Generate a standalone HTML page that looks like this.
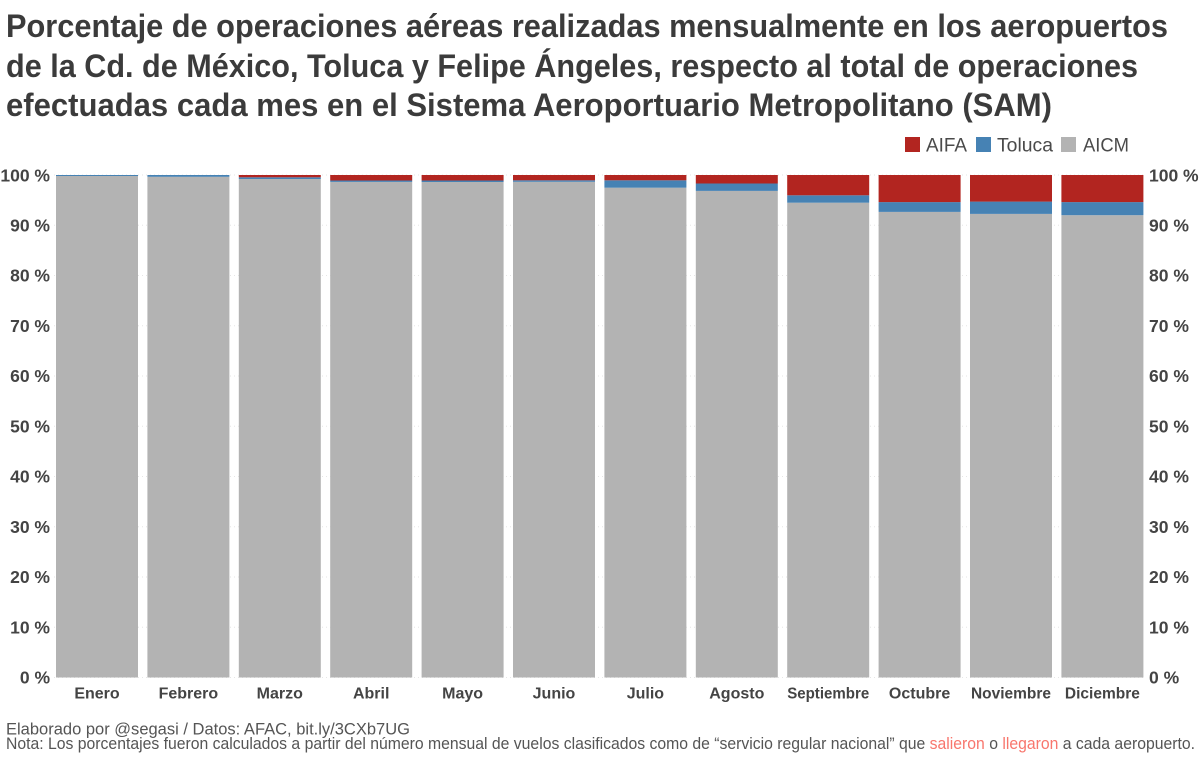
<!DOCTYPE html>
<html>
<head>
<meta charset="utf-8">
<style>
  html,body{margin:0;padding:0;background:#fff;}
  svg{display:block;}
  text{font-family:"Liberation Sans",Arial,sans-serif;}
</style>
</head>
<body>
<svg width="1200" height="758" viewBox="0 0 1200 758" xmlns="http://www.w3.org/2000/svg">
  <rect width="1200" height="758" fill="#fff"/>
  <!-- Title -->
  <g fill="#3b3b3b" font-weight="bold" font-size="32">
    <text x="6" y="37" textLength="1162" lengthAdjust="spacingAndGlyphs">Porcentaje de operaciones aéreas realizadas mensualmente en los aeropuertos</text>
    <text x="6" y="77" textLength="1132" lengthAdjust="spacingAndGlyphs">de la Cd. de México, Toluca y Felipe Ángeles, respecto al total de operaciones</text>
    <text x="6" y="116" textLength="1046" lengthAdjust="spacingAndGlyphs">efectuadas cada mes en el Sistema Aeroportuario Metropolitano (SAM)</text>
  </g>
  <!-- Legend -->
  <g font-size="19" fill="#4a4a4a">
    <rect x="905" y="137" width="15" height="15" fill="#b22520"/>
    <text x="926" y="151.5" textLength="41" lengthAdjust="spacingAndGlyphs">AIFA</text>
    <rect x="976" y="137" width="15" height="15" fill="#4682b4"/>
    <text x="997" y="151.5" textLength="56" lengthAdjust="spacingAndGlyphs">Toluca</text>
    <rect x="1061" y="137" width="15" height="15" fill="#b3b3b3"/>
    <text x="1083" y="151.5" textLength="46" lengthAdjust="spacingAndGlyphs">AICM</text>
  </g>
  <!-- Grid -->
  <g stroke="#e6e6e6" stroke-width="1" stroke-dasharray="1,3">
    <line x1="54" x2="1146" y1="175" y2="175"/>
    <line x1="54" x2="1146" y1="225.25" y2="225.25"/>
    <line x1="54" x2="1146" y1="275.5" y2="275.5"/>
    <line x1="54" x2="1146" y1="325.75" y2="325.75"/>
    <line x1="54" x2="1146" y1="376" y2="376"/>
    <line x1="54" x2="1146" y1="426.25" y2="426.25"/>
    <line x1="54" x2="1146" y1="476.5" y2="476.5"/>
    <line x1="54" x2="1146" y1="526.75" y2="526.75"/>
    <line x1="54" x2="1146" y1="577" y2="577"/>
    <line x1="54" x2="1146" y1="627.25" y2="627.25"/>
    <line x1="54" x2="1146" y1="677.5" y2="677.5"/>
  </g>
  <!-- Bars -->
  <g>
    <rect x="56" y="176" width="82" height="501.5" fill="#b3b3b3"/>
    <rect x="56" y="175" width="82" height="1" fill="#4682b4"/>
    <rect x="147.4" y="176.8" width="82" height="500.7" fill="#b3b3b3"/>
    <rect x="147.4" y="175" width="82" height="1.8" fill="#4682b4"/>
    <rect x="238.8" y="179" width="82" height="498.5" fill="#b3b3b3"/>
    <rect x="238.8" y="177.3" width="82" height="1.7" fill="#4682b4"/>
    <rect x="238.8" y="175" width="82" height="2.3" fill="#b22520"/>
    <rect x="330.2" y="181.9" width="82" height="495.6" fill="#b3b3b3"/>
    <rect x="330.2" y="180.5" width="82" height="1.4" fill="#4682b4"/>
    <rect x="330.2" y="175" width="82" height="5.5" fill="#b22520"/>
    <rect x="421.6" y="182" width="82" height="495.5" fill="#b3b3b3"/>
    <rect x="421.6" y="180.5" width="82" height="1.5" fill="#4682b4"/>
    <rect x="421.6" y="175" width="82" height="5.5" fill="#b22520"/>
    <rect x="513" y="181.8" width="82" height="495.7" fill="#b3b3b3"/>
    <rect x="513" y="180.3" width="82" height="1.5" fill="#4682b4"/>
    <rect x="513" y="175" width="82" height="5.3" fill="#b22520"/>
    <rect x="604.4" y="187.7" width="82" height="489.8" fill="#b3b3b3"/>
    <rect x="604.4" y="180.3" width="82" height="7.4" fill="#4682b4"/>
    <rect x="604.4" y="175" width="82" height="5.3" fill="#b22520"/>
    <rect x="695.8" y="190.9" width="82" height="486.6" fill="#b3b3b3"/>
    <rect x="695.8" y="183.5" width="82" height="7.4" fill="#4682b4"/>
    <rect x="695.8" y="175" width="82" height="8.5" fill="#b22520"/>
    <rect x="787.2" y="202.7" width="82" height="474.8" fill="#b3b3b3"/>
    <rect x="787.2" y="195.3" width="82" height="7.4" fill="#4682b4"/>
    <rect x="787.2" y="175" width="82" height="20.3" fill="#b22520"/>
    <rect x="878.6" y="211.9" width="82" height="465.6" fill="#b3b3b3"/>
    <rect x="878.6" y="202.1" width="82" height="9.8" fill="#4682b4"/>
    <rect x="878.6" y="175" width="82" height="27.1" fill="#b22520"/>
    <rect x="970" y="213.9" width="82" height="463.6" fill="#b3b3b3"/>
    <rect x="970" y="201.6" width="82" height="12.3" fill="#4682b4"/>
    <rect x="970" y="175" width="82" height="26.6" fill="#b22520"/>
    <rect x="1061.4" y="215.2" width="82" height="462.3" fill="#b3b3b3"/>
    <rect x="1061.4" y="202.1" width="82" height="13.1" fill="#4682b4"/>
    <rect x="1061.4" y="175" width="82" height="27.1" fill="#b22520"/>
  </g>
  <!-- Left axis labels -->
  <g font-size="17.5" font-weight="bold" fill="#444" text-anchor="end">
    <text x="50" y="181.5">100 %</text>
    <text x="50" y="231.5">90 %</text>
    <text x="50" y="281.5">80 %</text>
    <text x="50" y="332">70 %</text>
    <text x="50" y="382">60 %</text>
    <text x="50" y="432.5">50 %</text>
    <text x="50" y="482.5">40 %</text>
    <text x="50" y="533">30 %</text>
    <text x="50" y="583">20 %</text>
    <text x="50" y="633.5">10 %</text>
    <text x="50" y="683.5">0 %</text>
  </g>
  <!-- Right axis labels -->
  <g font-size="17.5" font-weight="bold" fill="#444" text-anchor="start">
    <text x="1149" y="181.5">100 %</text>
    <text x="1149" y="231.5">90 %</text>
    <text x="1149" y="281.5">80 %</text>
    <text x="1149" y="332">70 %</text>
    <text x="1149" y="382">60 %</text>
    <text x="1149" y="432.5">50 %</text>
    <text x="1149" y="482.5">40 %</text>
    <text x="1149" y="533">30 %</text>
    <text x="1149" y="583">20 %</text>
    <text x="1149" y="633.5">10 %</text>
    <text x="1149" y="683.5">0 %</text>
  </g>
  <!-- Month labels -->
  <g font-size="16" font-weight="bold" fill="#444" text-anchor="middle">
    <text x="97" y="698.5">Enero</text>
    <text x="188.4" y="698.5">Febrero</text>
    <text x="279.8" y="698.5">Marzo</text>
    <text x="371.2" y="698.5">Abril</text>
    <text x="462.6" y="698.5">Mayo</text>
    <text x="554" y="698.5">Junio</text>
    <text x="645.4" y="698.5">Julio</text>
    <text x="736.8" y="698.5">Agosto</text>
    <text x="828.2" y="698.5" textLength="82" lengthAdjust="spacingAndGlyphs">Septiembre</text>
    <text x="919.6" y="698.5">Octubre</text>
    <text x="1011" y="698.5" textLength="80" lengthAdjust="spacingAndGlyphs">Noviembre</text>
    <text x="1102.4" y="698.5" textLength="75" lengthAdjust="spacingAndGlyphs">Diciembre</text>
  </g>
  <!-- Footer -->
  <g font-size="16.5" fill="#555">
    <text x="6" y="734.5" textLength="404" lengthAdjust="spacingAndGlyphs">Elaborado por @segasi / Datos: AFAC, bit.ly/3CXb7UG</text>
    <text x="6" y="749" textLength="1189" lengthAdjust="spacingAndGlyphs">Nota: Los porcentajes fueron calculados a partir del número mensual de vuelos clasificados como de “servicio regular nacional” que <tspan fill="#f8766d">salieron</tspan> o <tspan fill="#f8766d">llegaron</tspan> a cada aeropuerto.</text>
  </g>
</svg>
</body>
</html>
